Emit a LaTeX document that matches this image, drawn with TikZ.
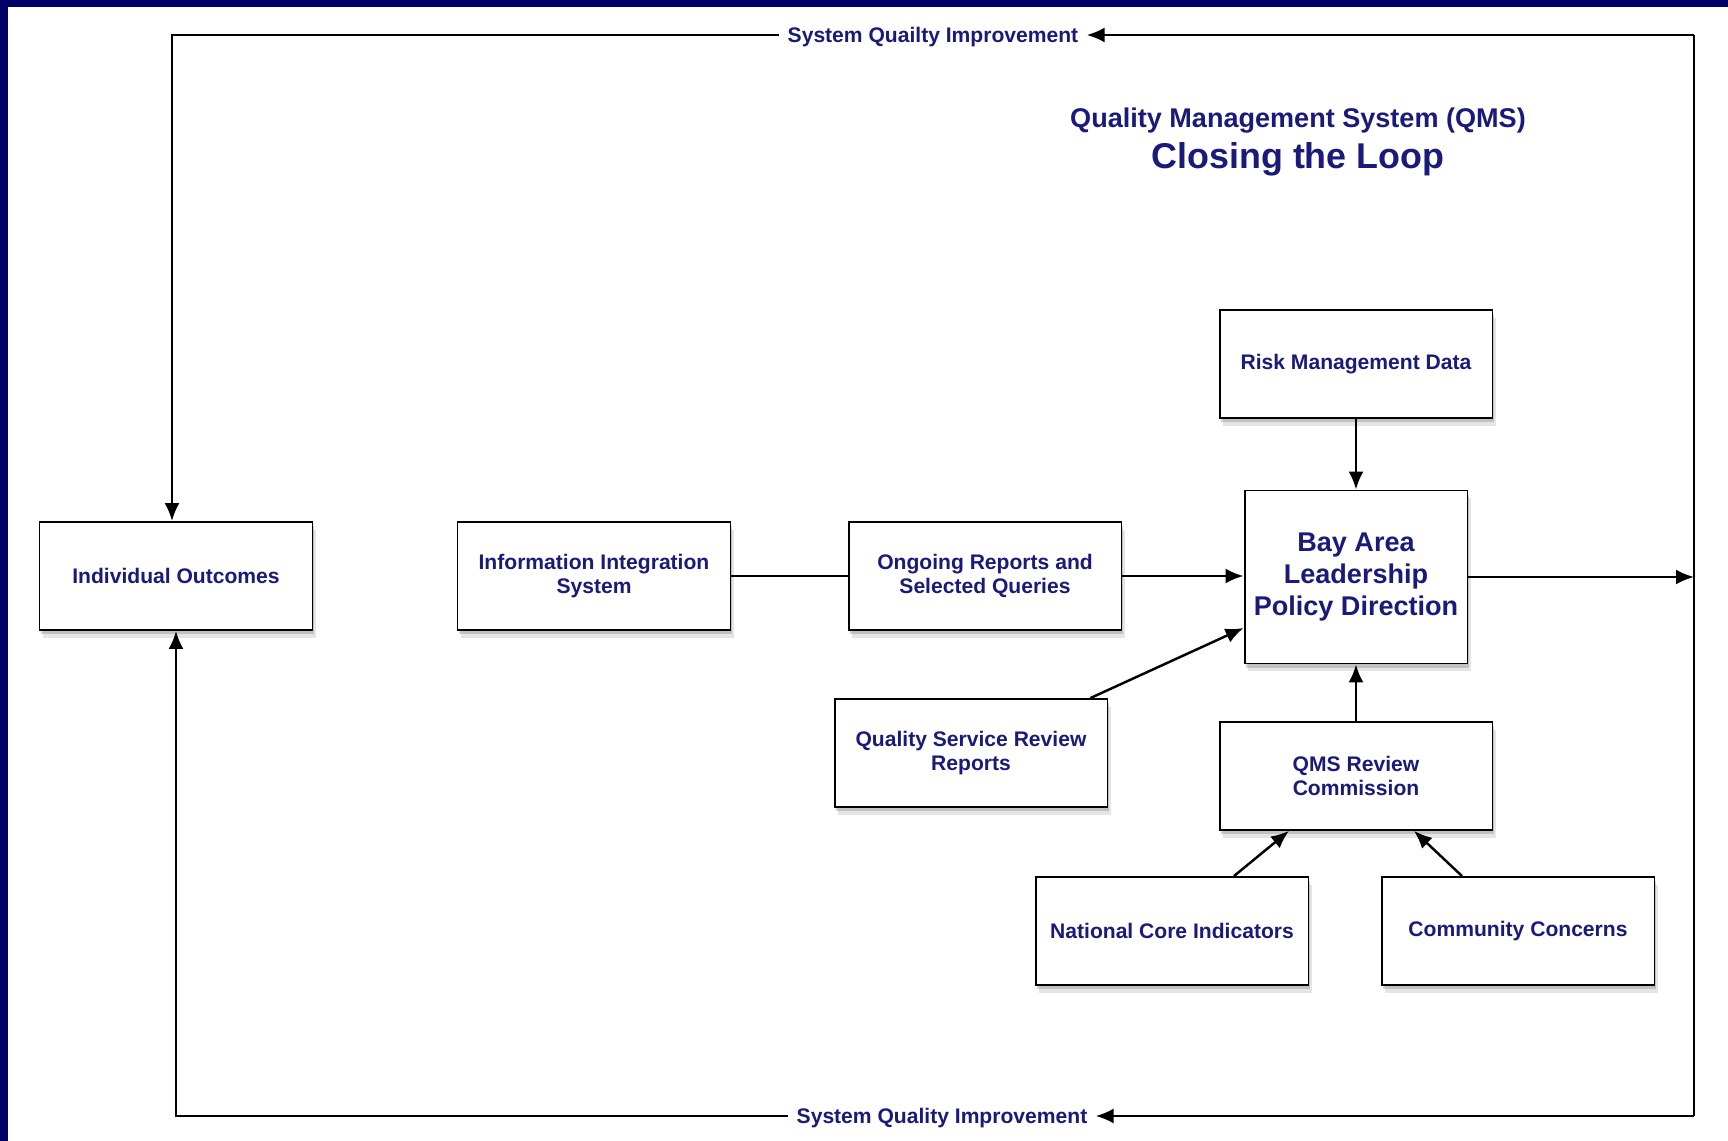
\documentclass[tikz,border=0pt]{standalone}
\usepackage{fontspec}
\setmainfont{Liberation Sans}
\usetikzlibrary{positioning,shadows,arrows.meta}
\definecolor{qmsnavy}{RGB}{26,26,122}
\definecolor{framenavy}{RGB}{0,0,102}
\tikzset{box/.style = {rectangle, draw=black, line width=1.1pt, fill=white,
  minimum width=5.46cm, minimum height=2.16cm, align=center,
  text=qmsnavy, font=\bfseries\fontsize{12}{13.8}\selectfont,
  drop shadow={opacity=0.2, shadow xshift=2pt, shadow yshift=-4.5pt},
  drop shadow={opacity=0.35, shadow xshift=1pt, shadow yshift=-2.5pt}}}
\tikzset{bigbox/.style = {box, minimum width=4.46cm, minimum height=3.46cm,
  font=\bfseries\fontsize{15.4}{18}\selectfont}}
\tikzset{flow/.style = {line width=1.4pt, -{Latex[length=0.36cm, width=0.3cm]}}}
\tikzset{note/.style = {text=qmsnavy, inner sep=0.16cm,
  font=\bfseries\fontsize{12}{14}\selectfont}}

\begin{document}
\begin{tikzpicture}[x=0.02cm, y=-0.02cm]
  \useasboundingbox (0,0) rectangle (1728,1141);
  \fill[framenavy] (0,0) rectangle (1728,1141);
  \fill[white] (8,7) rectangle (1728,1141);

  % title
  \node[text=qmsnavy, font=\bfseries\fontsize{15.4}{18}\selectfont] (title)
    at (1298,121) {Quality Management System (QMS)};
  \node[text=qmsnavy, font=\bfseries\fontsize{20.4}{24}\selectfont] (subtitle)
    at (1298,159) {Closing the Loop};

  % boxes
  \node[box] (indiv) at (176,576) {Individual Outcomes};
  \node[box] (info) at (594,576) {Information Integration\\System};
  \node[box] (ongoing) at (985,576) {Ongoing Reports and\\Selected Queries};
  \node[bigbox] (bay) at (1356,577) {Bay Area\\Leadership\\Policy Direction};
  \node[box, above=1.41cm of bay] (risk) {Risk Management Data};
  \node[box, below=1.13cm of bay] (qms) {QMS Review\\Commission};
  \node[box] (qsr) at (971,753) {Quality Service Review\\Reports};
  \node[box] (nci) at (1172,931) {National Core Indicators};
  \node[box] (cc) at (1518,931) {Community Concerns};

  % the loop
  \coordinate (tr) at (1694,35);
  \coordinate (br) at (1694,1116);
  \coordinate (tl) at (172,35);
  \coordinate (bl) at (176,1116);
  \node[note] (topnote) at (933,37) {System Quailty Improvement};
  \node[note] (botnote) at (942,1118) {System Quality Improvement};
  \draw[line width=1.4pt] (tr) -- (br);
  \draw[flow] (tr) -- (tr -| topnote.east);
  \draw[flow] (tr -| topnote.west) -- (tl) -- (tl |- indiv.north);
  \draw[flow] (br) -- (br -| botnote.east);
  \draw[flow] (br -| botnote.west) -- (bl) -- (indiv.south);

  % inputs
  \draw[line width=1.4pt] (info) -- (ongoing);
  \draw[flow] (ongoing.east) -- (ongoing.east -| bay.west);
  \draw[flow] (risk) -- (bay);
  \draw[flow] (qms) -- (bay);
  \draw[flow] ([xshift=-0.36cm]qsr.north east) -- ([yshift=-1.02cm]bay.west);
  \draw[flow] ([xshift=1.24cm]nci.north) -- ([xshift=-1.34cm]qms.south);
  \draw[flow] ([xshift=-1.12cm]cc.north) -- ([xshift=1.16cm]qms.south);
  \draw[flow] (bay.east) -- (bay.east -| tr);
\end{tikzpicture}
\end{document}
